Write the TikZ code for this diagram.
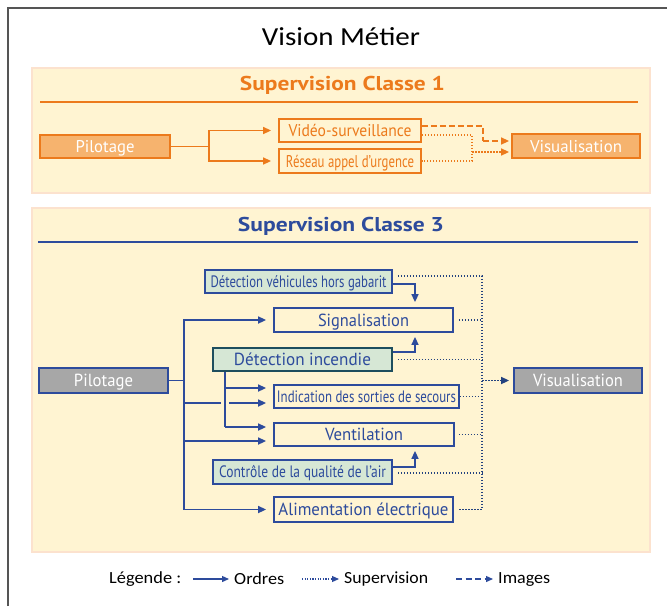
\documentclass[tikz,border=0pt]{standalone}
\usepackage{fontspec}
\setmainfont{PT Sans}
\newfontfamily\legendfont{Carlito}
\usetikzlibrary{arrows.meta}
\definecolor{orng}{HTML}{EC7A1C}
\definecolor{orngfill}{HTML}{F6B36E}
\definecolor{cream}{HTML}{FFF4D2}
\definecolor{peach}{HTML}{FCE2CE}
\definecolor{navy}{HTML}{2D4B9C}
\definecolor{dotnavy}{HTML}{23427F}
\definecolor{mint}{HTML}{D6E7D5}
\definecolor{darkteal}{HTML}{1E4E5E}
\definecolor{greybox}{HTML}{A7A7A7}
\definecolor{framec}{HTML}{555555}
% squeeze or stretch a label horizontally to a given width (in pt)
\newcommand{\fitw}[2]{\resizebox{#1pt}{\height}{#2}}
\begin{document}
\begin{tikzpicture}[x=1pt,y=-1pt,
  panel/.style={draw=peach, line width=2pt, fill=cream},
  box/.style={inner sep=0pt, line width=1.8pt, text height=12pt, text depth=0pt},
  obox/.style={box, draw=orng, text=orng, font=\fontsize{17}{19}\selectfont},
  ofill/.style={box, draw=orng, fill=orngfill, text=white, font=\fontsize{17}{19}\selectfont},
  bbox/.style={box, draw=navy, text=navy, font=\fontsize{17.5}{19}\selectfont},
  bsmall/.style={bbox, text height=11.5pt, font=\fontsize{16.5}{19}\selectfont},
  bgreen/.style={bsmall, fill=mint},
  bgrey/.style={bbox, fill=greybox, text=white},
  tip/.style={-{Triangle[length=8pt,width=7pt]}},
  oline/.style={draw=orng, line width=1.5pt},
  oarrow/.style={oline, tip, shorten >=7pt},
  odash/.style={oline, dash pattern=on 6pt off 3pt},
  odot/.style={oline, line width=1.5pt, dash pattern=on 1.5pt off 1.5pt},
  bline/.style={draw=navy, line width=1.6pt},
  barrow/.style={bline, tip, shorten >=7pt},
  bdot/.style={draw=dotnavy, line width=1.6pt, dash pattern=on 1.5pt off 1.5pt},
  legtext/.style={inner sep=0pt, anchor=west, font=\legendfont\fontsize{17}{19}\selectfont},
  legtip/.style={-{Triangle[length=7pt,width=6pt]}, draw=navy, line width=1.3pt, shorten >=5pt}
]
\useasboundingbox (0,0) rectangle (667,606);

% outer frame
\draw[framec, line width=1.2pt] (8,606) -- (8,8) -- (667,8);

\node[font=\legendfont\fontsize{26}{30}\selectfont] (title) at (341,37) {\fitw{158}{Vision Métier}};

% ---------- class 1 panel ----------
\draw[panel] (32,68) rectangle (650,193);
\node[text=orng, font=\fontsize{20}{24}\selectfont\bfseries] (ohead) at (342.5,85) {\fitw{205}{Supervision Classe 1}};
\draw[orng, line width=1.5pt] (40,102) -- (638,102);

\node[ofill, minimum width=130, minimum height=23] (opil) at (105,146.5) {\fitw{59}{Pilotage}};
\node[obox, minimum width=142, minimum height=23] (vid) at (350,130.5) {\fitw{123}{Vidéo-surveillance}};
\node[obox, minimum width=142, minimum height=24] (res) at (350,161) {\fitw{128}{Réseau appel d’urgence}};
\node[ofill, minimum width=128, minimum height=24] (ovis) at (576,146) {\fitw{92}{Visualisation}};

\draw[oarrow] (opil.east) -- ++(38,0) |- (vid.west);
\draw[oarrow] (opil.east) -- ++(38,0) |- (res.west);
\coordinate (ojoin) at (472,152);
\draw[odash] ([yshift=4.5pt]vid.east) -| (483,141);
\draw[odash, tip, shorten >=2pt] (483,141) -- ([yshift=5pt]ovis.west);
\draw[odot] ([yshift=-4.5pt]vid.east) -| (472,161) -- (res.east);
\draw[odot, tip, shorten >=2pt] (ojoin) -- ([yshift=-6pt]ovis.west);

% ---------- class 3 panel ----------
\draw[panel] (32,208) rectangle (650,552);
\node[text=navy, font=\fontsize{20}{24}\selectfont\bfseries] (bhead) at (341,226) {\fitw{206}{Supervision Classe 3}};
\draw[navy, line width=2pt] (38,242) -- (638,242);

\node[bgrey, minimum width=129, minimum height=25] (bpil) at (103.5,380.5) {\fitw{59}{Pilotage}};
\node[bgreen, minimum width=187, minimum height=23] (dvhg) at (298.5,281.5) {\fitw{176}{Détection véhicules hors gabarit}};
\node[bbox, minimum width=179, minimum height=24] (sig) at (363.5,320) {\fitw{91}{Signalisation}};
\node[bbox, fill=mint, draw=darkteal, minimum width=179, minimum height=23] (dinc) at (302.5,359.5) {\fitw{137}{Détection incendie}};
\node[bsmall, minimum width=185, minimum height=23] (ind) at (366.5,396.5) {\fitw{179}{Indication des sorties de secours}};
\node[bbox, minimum width=180, minimum height=23] (ven) at (364,434.5) {\fitw{78}{Ventilation}};
\node[bgreen, minimum width=179, minimum height=24] (ctrl) at (302.5,472) {\fitw{167}{Contrôle de la qualité de l’air}};
\node[bbox, minimum width=179, minimum height=25] (alim) at (363.5,509.5) {\fitw{170}{Alimentation électrique}};
\node[bgrey, minimum width=128, minimum height=25] (bvis) at (578,380.5) {\fitw{90}{Visualisation}};

% orders from the control desk
\coordinate (trunk) at (184,380.5);
\coordinate (indlow) at ([yshift=-6.5pt]ind.west);
\coordinate (venlow) at ([yshift=-6.5pt]ven.west);
\draw[bline] (bpil.east) -- (trunk);
\draw[barrow] (trunk) |- (sig.west);
\draw[barrow] (trunk) |- (alim.west);
\draw[barrow] (indlow -| trunk) -- (indlow);
\draw[barrow] (venlow -| trunk) -- (venlow);

% orders from fire detection (crossing gap on the way down)
\coordinate (dtop) at ([xshift=-77.5pt]dinc.south);
\coordinate (indhigh) at ([yshift=8.5pt]ind.west);
\coordinate (venhigh) at ([yshift=7.5pt]ven.west);
\draw[bline, preaction={draw=cream, line width=8pt}] (dtop) -- (dtop |- venhigh);
\draw[barrow] (dtop |- indhigh) -- (indhigh);
\draw[barrow] (dtop |- venhigh) -- (venhigh);

% short feeds into the actuators
\draw[barrow, shorten >=5pt] ([yshift=-2.5pt]dvhg.east) -| ([xshift=51.5pt]sig.north);
\draw[barrow, shorten >=4pt] ([yshift=7.5pt]dinc.east) -| ([xshift=51.5pt]sig.south);
\draw[barrow, shorten >=4pt] ([yshift=5pt]ctrl.east) -| ([xshift=51pt]ven.south);

% supervision bus
\coordinate (bus) at (482,0);
\coordinate (s1) at ([xshift=5pt,yshift=5.5pt]dvhg.east);
\coordinate (s2) at ([xshift=5pt]sig.east);
\coordinate (s3) at ([xshift=5pt]dinc.east);
\coordinate (s4) at (ind.east);
\coordinate (s5) at ([xshift=4pt]ven.east);
\coordinate (s6) at ([xshift=5pt,yshift=-1pt]ctrl.east);
\coordinate (s7) at ([xshift=5pt]alim.east);
\draw[bdot] (s1) -- (s1 -| bus) -- (s7 -| bus) -- (s7);
\foreach \s in {s2,s3,s4,s5,s6} \draw[bdot] (\s) -- (\s -| bus);
\draw[bdot, tip, shorten >=4pt] (bvis.west -| bus) -- (bvis.west);

% ---------- legend ----------
\node[legtext] (lgd) at (109,579) {\fitw{72}{Légende :}};
\node[legtext] (lord) at (234,579) {\fitw{50}{Ordres}};
\node[legtext] (lsup) at (344,579) {\fitw{84}{Supervision}};
\node[legtext] (limg) at (498,579) {\fitw{52}{Images}};
\coordinate (l1) at (193,579);
\coordinate (l2) at (302,579);
\coordinate (l3) at (456,579);
\draw[legtip] (l1) -- (lord.west);
\draw[legtip, dash pattern=on 1.2pt off 1.4pt, line width=1.2pt] (l2) -- (lsup.west);
\draw[legtip, dash pattern=on 6pt off 3.5pt] (l3) -- (limg.west);
\end{tikzpicture}
\end{document}
